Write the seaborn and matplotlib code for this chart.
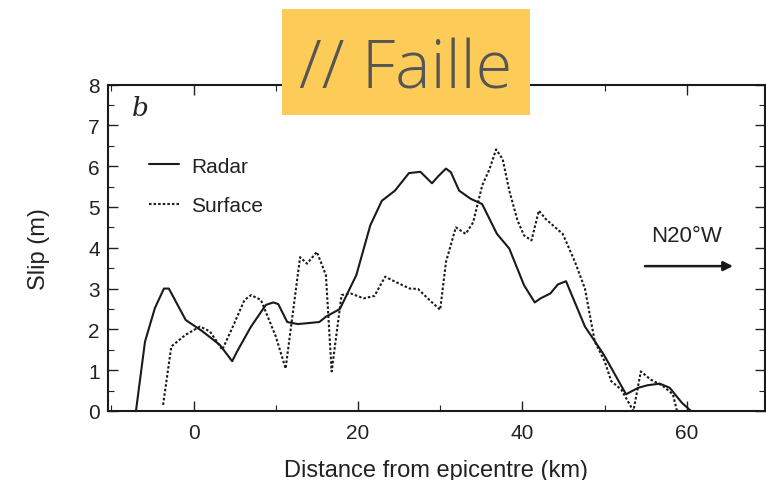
import matplotlib
matplotlib.use("Agg")
import matplotlib.pyplot as plt
from matplotlib.patches import Rectangle
from matplotlib.ticker import MultipleLocator
import seaborn as sns
import pandas as pd

# ---- data ----
radar_x = [-7.0, -5.9, -4.7, -3.6, -3.0, -0.95, 1.1, 3.2, 4.7, 5.3, 7.0, 8.8, 9.7, 10.3,
           11.4, 12.7, 15.3, 16.1, 17.8, 19.8, 21.5, 22.9, 24.5, 26.2, 27.6, 29.0, 29.8,
           30.7, 31.3, 32.3, 33.7, 35.1, 36.9, 38.4, 40.2, 41.5, 42.2, 43.4, 44.3, 45.3,
           47.6, 49.9, 52.6, 54.1, 55.2, 56.7, 57.9, 59.4, 60.5]
radar_y = [0.0, 1.70, 2.52, 3.0, 3.0, 2.23, 1.95, 1.62, 1.22, 1.46, 2.07, 2.6, 2.66, 2.62,
           2.18, 2.13, 2.18, 2.31, 2.5, 3.33, 4.55, 5.15, 5.4, 5.83, 5.86, 5.58, 5.76,
           5.94, 5.85, 5.4, 5.2, 5.07, 4.34, 3.98, 3.08, 2.66, 2.76, 2.88, 3.1, 3.18,
           2.07, 1.38, 0.41, 0.57, 0.63, 0.67, 0.57, 0.2, 0.0]

surface_x = [-3.7, -2.7, -0.95, 0.8, 2.0, 3.5, 4.7, 6.2, 7.0, 8.2, 10.0, 11.2, 12.96, 13.8,
             15.0, 16.1, 16.8, 18.0, 19.1, 20.7, 22.0, 23.3, 24.5, 26.3, 27.3, 28.9, 30.0,
             30.7, 31.9, 33.1, 34.0, 35.1, 36.0, 36.8, 37.6, 38.4, 39.4, 40.2, 41.1, 42.0,
             42.8, 43.7, 44.9, 46.4, 47.6, 48.8, 50.0, 50.8, 52.0, 53.5, 54.4, 55.6, 57.1,
             58.3, 58.8]
surface_y = [0.15, 1.58, 1.87, 2.07, 1.95, 1.5, 2.03, 2.72, 2.84, 2.72, 1.83, 1.04, 3.77, 3.61,
             3.9, 3.33, 0.97, 2.84, 2.88, 2.76, 2.82, 3.29, 3.17, 3.0, 2.99, 2.68, 2.48,
             3.65, 4.5, 4.34, 4.62, 5.52, 5.93, 6.41, 6.17, 5.4, 4.67, 4.3, 4.18, 4.91,
             4.71, 4.55, 4.34, 3.65, 3.0, 1.7, 1.22, 0.73, 0.53, 0.0, 0.97, 0.77, 0.61,
             0.41, 0.0]

series_names = ["Radar", "Surface"]
x_ticks = [0, 20, 40, 60]
y_ticks = [0, 1, 2, 3, 4, 5, 6, 7, 8]
title_text = "// Faille"
panel_letter = "b"
direction_text = "N20°W"
x_label = "Distance from epicentre (km)"
y_label = "Slip (m)"

df = pd.concat([
    pd.DataFrame({"x": radar_x, "y": radar_y, "series": series_names[0]}),
    pd.DataFrame({"x": surface_x, "y": surface_y, "series": series_names[1]}),
], ignore_index=True)

sns.set_theme(style="ticks")
plt.rcParams["font.family"] = ["Liberation Sans", "DejaVu Sans"]

fig = plt.figure(figsize=(7.66, 4.81), dpi=100)
ax = fig.add_axes([108 / 766, 69 / 481, 657 / 766, 326.5 / 481])

sns.lineplot(data=df, x="x", y="y", hue="series", style="series",
             palette={"Radar": "#1a1a1a", "Surface": "#1a1a1a"},
             dashes={"Radar": "", "Surface": (1.2, 1.0)},
             estimator=None, sort=False, linewidth=1.5, ax=ax)

ax.set_xlim(-10.4, 69.5)
ax.set_ylim(0, 8)
ax.set_xticks(x_ticks)
ax.set_yticks(y_ticks)
ax.xaxis.set_minor_locator(MultipleLocator(10))
ax.yaxis.set_minor_locator(MultipleLocator(0.5))
ax.tick_params(which="both", direction="in", top=True, right=True, color="#222222",
               labelsize=15, labelcolor="#222222")
ax.tick_params(axis="x", which="both", pad=9)
ax.tick_params(axis="y", which="both", pad=6)
ax.tick_params(which="major", length=7, width=1.0)
ax.tick_params(which="minor", length=4, width=0.8)
for s in ax.spines.values():
    s.set_linewidth(1.5)
    s.set_color("#1a1a1a")

ax.set_xlabel(x_label, fontsize=17, color="#222222", labelpad=12)
ax.set_ylabel(y_label, fontsize=17, color="#222222", labelpad=27)

leg = ax.legend(loc="upper left", bbox_to_anchor=(0.05, 0.805), frameon=False,
                fontsize=15, handlelength=1.45, handletextpad=0.55, labelspacing=1.0,
                borderaxespad=0)
for t in leg.get_texts():
    t.set_color("#222222")

ax.text(0.037, 0.93, panel_letter, transform=ax.transAxes, fontsize=19,
        family="DejaVu Serif", style="italic", va="center", ha="left", color="#222222")

ax.text(60.0, 4.29, direction_text, fontsize=16, ha="center", va="center", color="#222222")
ax.annotate("", xy=(65.6, 3.55), xytext=(54.9, 3.55),
            arrowprops=dict(arrowstyle="-|>", color="#1a1a1a", lw=1.8,
                            mutation_scale=14, shrinkA=0, shrinkB=0))

# title box
fig.patches.append(Rectangle((282 / 766, (481 - 116) / 481), 248 / 766, 106 / 481,
                             transform=fig.transFigure, facecolor="#FDCB58",
                             edgecolor="none", zorder=10))
fig.text(406 / 766, (481 - 89) / 481, title_text, fontsize=48, ha="center",
         va="baseline", family=["Open Sans", "Lato", "DejaVu Sans"], weight="light",
         color="#555555", zorder=11)

fig.savefig("out.png", dpi=100)
